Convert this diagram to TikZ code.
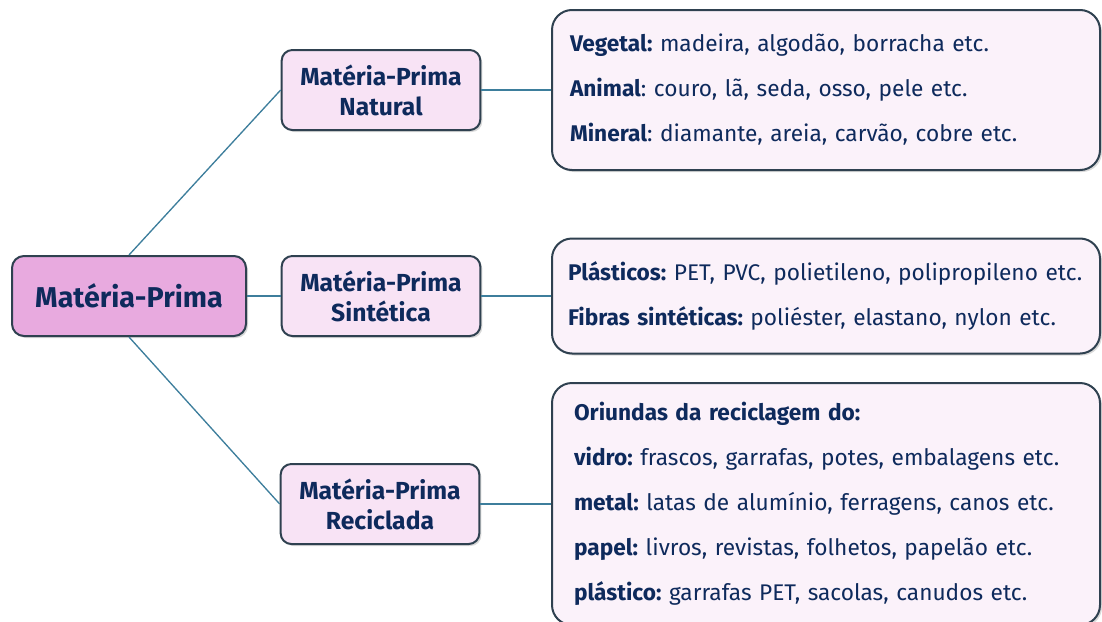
\documentclass[tikz,border=0pt]{standalone}
\usepackage{fontspec}
\setmainfont{Fira Sans}
\usetikzlibrary{shadows}

\definecolor{navy}{HTML}{0E2A5C}
\definecolor{linkblue}{HTML}{3D7E9C}
\definecolor{mainpink}{HTML}{E8AADF}
\definecolor{subpink}{HTML}{F8E3F5}
\definecolor{boxpink}{HTML}{FBF2FA}
\definecolor{edgegray}{HTML}{2F4150}

\tikzset{
  box/.style={draw=edgegray, line width=1.5pt, text=navy,
    drop shadow={opacity=0.3, shadow xshift=1.5pt, shadow yshift=-1.5pt}},
  mainbox/.style={box, rounded corners=9pt, fill=mainpink,
    minimum width=175.5pt, minimum height=60pt,
    font=\fontsize{21.5}{24}\selectfont\bfseries},
  kindbox/.style={box, rounded corners=8pt, fill=subpink, align=center,
    minimum width=149pt, minimum height=60pt,
    font=\fontsize{18.5}{22.5}\selectfont\bfseries},
  listbox/.style={box, rounded corners=15pt, fill=boxpink, align=left,
    font=\fontsize{17}{33.75}\selectfont\frenchspacing}
}

\begin{document}
\begin{tikzpicture}[x=0.75pt,y=-0.75pt]

      \useasboundingbox (0,0) rectangle (1102,621);

      \node[mainbox] (mp) at (129,296) {Matéria-Prima};

      \begin{scope}[every node/.style={kindbox}]
        \node (nat) at (381,90)  {Matéria-Prima\\Natural};
        \node (sin) at (381,296) {Matéria-Prima\\Sintética};
        \node (rec) at (380,504) {Matéria-Prima\\Reciclada};
      \end{scope}

      \begin{scope}[every node/.style={listbox}]
        \node[minimum height=120pt, inner xsep=13.5pt, text width=384pt] (dnat) at (826,90)
          {\textbf{Vegetal:} madeira, algodão, borracha etc.\\
           \textbf{Animal}: couro, lã, seda, osso, pele etc.\\
           \textbf{Mineral}: diamante, areia, carvão, cobre etc.};
        \node[minimum height=86.25pt, inner xsep=12pt, text width=387pt] (dsin) at (826,296)
          {\mbox{\textbf{Plásticos:} PET, PVC, polietileno, polipropileno etc.}\\
           \textbf{Fibras sintéticas:} poliéster, elastano, nylon etc.};
        \node[minimum height=181.5pt, inner xsep=16.5pt, text width=378pt] (drec) at (826,504)
          {\textbf{Oriundas da reciclagem do:}\\
           \textbf{vidro:} frascos, garrafas, potes, embalagens etc.\\
           \textbf{metal:} latas de alumínio, ferragens, canos etc.\\
           \textbf{papel:} livros, revistas, folhetos, papelão etc.\\
           \textbf{plástico:} garrafas PET, sacolas, canudos etc.};
      \end{scope}

      \begin{scope}[every path/.style={draw=linkblue, line width=1pt}]
        \path (mp.north) edge (nat.west);
        \path (mp.east)  edge (sin.west);
        \path (mp.south) edge (rec.west);
        \path (nat.east) edge (nat.east -| dnat.west);
        \path (sin.east) edge (sin.east -| dsin.west);
        \path (rec.east) edge (rec.east -| drec.west);
      \end{scope}

    \end{tikzpicture}
\end{document}
